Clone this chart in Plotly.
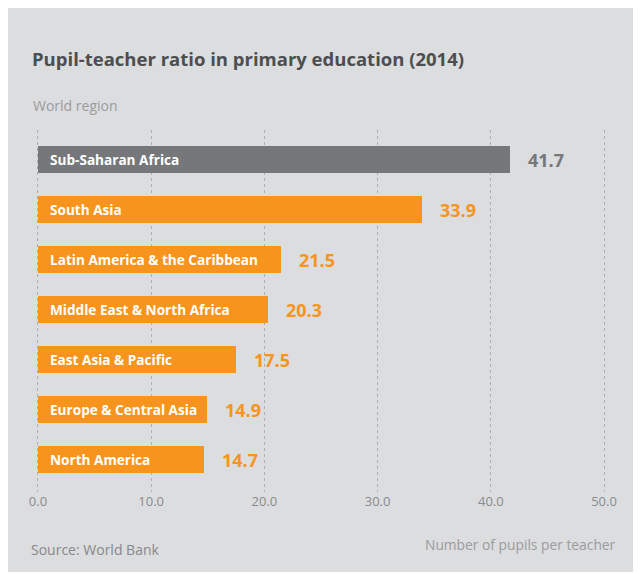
import plotly.graph_objects as go

# ----------------------------------- Data -----------------------------------

regions = [
    "Sub-Saharan Africa",
    "South Asia",
    "Latin America & the Caribbean",
    "Middle East & North Africa",
    "East Asia & Pacific",
    "Europe & Central Asia",
    "North America",
]
ratios = [41.7, 33.9, 21.5, 20.3, 17.5, 14.9, 14.7]
tick_vals = [0, 10, 20, 30, 40, 50]

GREY_BAR = "#76777a"
ORANGE = "#f7941d"
PANEL = "#dcdddf"
FONT = "Open Sans"

# page has an 8px body margin, so the figure sits at (8, 8)
OFF = 8
W, H = 641 - OFF, 574 - OFF
# x range is padded a little so the 0 and 50 gridlines are drawn
ML, MR, MT, MB = 26, 33, 130 - OFF, H - (492 - OFF)
PW, PH = W - ML - MR, H - MT - MB


def px(x):
    return (x - OFF - ML) / PW


def py(y):
    return (H - MB - (y - OFF)) / PH


colors = [GREY_BAR] + [ORANGE] * (len(regions) - 1)

# ----------------------------------- Figure -----------------------------------

fig = go.Figure()
fig.add_trace(go.Bar(
    x=ratios, y=regions, orientation="h",
    marker=dict(color=colors, line=dict(width=0)),
    width=0.54, hoverinfo="skip",
))

for name, val, col in zip(regions, ratios, colors):
    fig.add_annotation(x=0, y=name, text="<b>%s</b>" % name, showarrow=False,
                       xanchor="left", xshift=10,
                       font=dict(family=FONT, size=13.6, color="white"))
    fig.add_annotation(x=val, y=name, text="<b>%.1f</b>" % val, showarrow=False,
                       xanchor="left", xshift=16,
                       font=dict(family=FONT, size=18, color=col))

# panel with rounded top-left corner
x0, y0, x1, y1 = px(4), py(7), px(660), py(572)
r, ry = 10 / PW, 10 / PH
path = (f"M {x0},{y0 - ry} Q {x0},{y0} {x0 + r},{y0} L {x1},{y0} L {x1},{y1} "
        f"L {x0},{y1} Z")
fig.add_shape(type="path", path=path, xref="paper", yref="paper",
              fillcolor=PANEL, line=dict(width=0), layer="below")

fig.add_annotation(x=px(30), y=py(58), xref="paper", yref="paper",
                   text="<b>Pupil-teacher ratio in primary education (2014)</b>",
                   showarrow=False, xanchor="left", yanchor="middle",
                   font=dict(family=FONT, size=18.5, color="#4d4e50"))
fig.add_annotation(x=px(31), y=py(106), xref="paper", yref="paper",
                   text="World region", showarrow=False, xanchor="left", yanchor="middle",
                   font=dict(family=FONT, size=14, color="#9a9b9e"))
fig.add_annotation(x=px(29), y=py(549), xref="paper", yref="paper",
                   text="Source: World Bank", showarrow=False, xanchor="left", yanchor="middle",
                   font=dict(family=FONT, size=14, color="#87888b"))
fig.add_annotation(x=px(618), y=py(544), xref="paper", yref="paper",
                   text="Number of pupils per teacher", showarrow=False,
                   xanchor="right", yanchor="middle",
                   font=dict(family=FONT, size=13.8, color="#9a9b9e"))

fig.update_layout(
    width=W, height=H,
    margin=dict(l=ML, r=MR, t=MT, b=MB),
    paper_bgcolor="white",
    plot_bgcolor="rgba(0,0,0,0)",
    showlegend=False,
    bargap=0,
)
fig.update_xaxes(
    range=[-0.35, 50.35], tickvals=tick_vals, tickformat=".1f",
    showgrid=True, gridcolor="#aeafb2", griddash="dot", gridwidth=1,
    zeroline=False, showline=False, ticks="",
    tickfont=dict(family=FONT, size=13, color="#8a8b8e"),
)
fig.update_yaxes(
    range=[6.65, -0.59], showticklabels=False, showgrid=False,
    zeroline=False, showline=False,
)

fig.write_html("out.html")
